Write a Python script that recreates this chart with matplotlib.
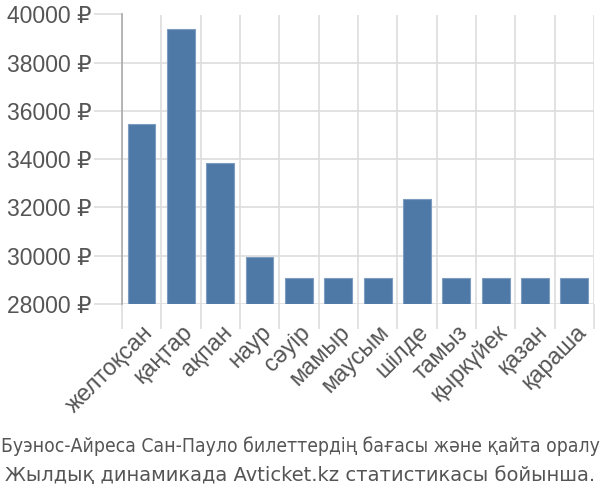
import matplotlib.pyplot as plt
import numpy as np

months = ['желтоқсан', 'қаңтар', 'ақпан', 'наур', 'сәуір', 'мамыр', 'маусым',
          'шілде', 'тамыз', 'қыркүйек', 'қазан', 'қараша']
prices = [35450, 39400, 33840, 29940, 29080, 29080, 29080,
          32360, 29080, 29080, 29080, 29080]
yticks = [28000, 30000, 32000, 34000, 36000, 38000, 40000]
title_lines = ['Буэнос-Айреса Сан-Пауло билеттердің бағасы және қайта оралу',
               'Жылдық динамикада Avticket.kz статистикасы бойынша.']

plt.rcParams['font.family'] = ['Liberation Sans', 'DejaVu Sans']

fig = plt.figure(figsize=(6, 5), dpi=100)
ax = fig.add_axes([0.203, 0.392, 0.787, 0.579])

x = np.arange(len(months))
ax.bar(x, np.array(prices) - 28000, bottom=28000, width=0.71,
       color='#4e79a7', edgecolor='#7d9cc0', linewidth=0.8, zorder=3)

ax.set_xlim(-0.5, len(months) - 0.5)
ax.set_ylim(28000, 40000)
ax.set_yticks(yticks)
ax.set_yticklabels([f'{v} ₽' for v in yticks])

# gridlines sit on category boundaries
ax.set_xticks(np.arange(len(months) + 1) - 0.5, minor=True)
ax.set_xticks(x)
ax.set_xticklabels(months, rotation=45, ha='right', rotation_mode='anchor')
ax.grid(True, which='minor', axis='x', color='#dddddd', linewidth=1.2, zorder=0)
ax.grid(True, which='major', axis='y', color='#dddddd', linewidth=1.2, zorder=0)

ax.tick_params(axis='x', which='major', length=0, labelsize=16.8, colors='#555555', pad=12)
ax.tick_params(axis='x', which='minor', length=18, color='#dddddd', width=1.2)
ax.tick_params(axis='y', length=20, color='#dddddd', width=1.2, labelsize=16.5,
               colors='#555555', pad=2)

for s in ['top', 'right', 'bottom']:
    ax.spines[s].set_visible(False)
ax.spines['left'].set_color('#aaaaaa')
ax.spines['left'].set_linewidth(1.2)
ax.spines['left'].set_bounds(28000, 40000)

fig.text(0.5, 0.108, title_lines[0], ha='center', va='center', fontsize=13.9,
         color='#555555', family='DejaVu Sans', fontstretch='condensed')
fig.text(0.5, 0.048, title_lines[1], ha='center', va='center', fontsize=14,
         color='#555555', family='DejaVu Sans')

fig.savefig('out.png', dpi=100)
